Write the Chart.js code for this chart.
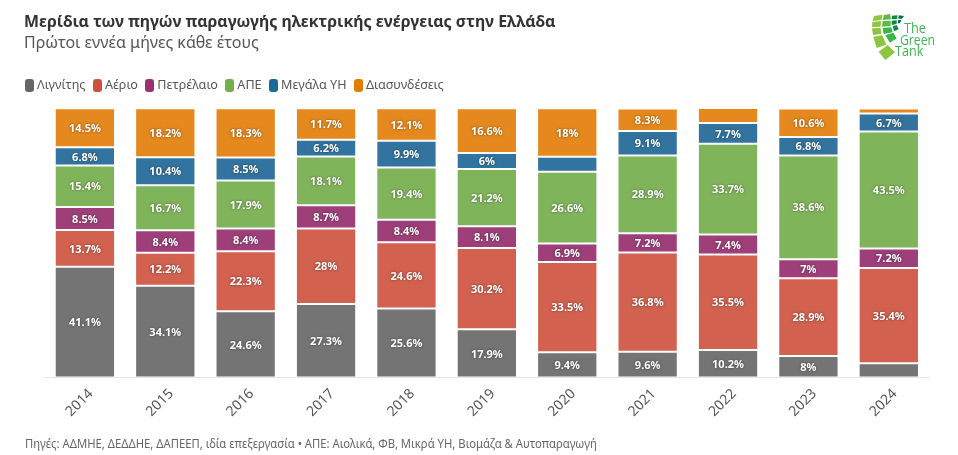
<!DOCTYPE html>
<html>
<head>
<meta charset="utf-8">
<script src="https://cdn.jsdelivr.net/npm/chart.js@4/dist/chart.umd.min.js"></script>
<style>
  html, body { margin: 0; padding: 0; background: #fff; }
  #wrap { position: relative; width: 958px; height: 455px; overflow: hidden; font-family: "Noto Sans", sans-serif; }
  #chart { position: absolute; left: 0; top: 0; }
  #legend { position: absolute; left: 25px; top: 76px; display: flex; font-size: 12.6px; line-height: 18px; color: #555; white-space: nowrap; }
  #legend span { display: flex; align-items: center; margin-right: 7.4px; }
  #legend i { display: block; width: 9px; height: 13px; border-radius: 3px; margin-right: 3px; }
  #source { position: absolute; left: 25px; top: 435px; font-size: 12px; color: #666; white-space: nowrap; transform: scaleX(0.94); transform-origin: left top; }
  #logo { position: absolute; left: 840px; top: 0; }
</style>
</head>
<body>
<div id="wrap">
  <canvas id="chart" width="958" height="455"></canvas>
  <div id="legend"></div>
  <svg id="logo" width="118" height="70" viewBox="0 0 354 210">
    <g fill="#8cc63f">
      <polygon points="102,48 128,44 124,60 98,63"/>
      <polygon points="97,66 123,63 122,80 96,81"/>
      <polygon points="96,85 122,84 124,102 99,105"/>
      <polygon points="100,110 127,106 139,134 110,144"/>
      <polygon points="116,155 143,135 165,157 136,180"/>
    </g>
    <g fill="#5cb947">
      <polygon points="132,45 150,42 153,58 128,60"/>
      <polygon points="128,63 152,62 152,78 126,80"/>
    </g>
    <g fill="#39b54a">
      <polygon points="128,84 154,82 158,97 131,102"/>
      <polygon points="136,106 160,98 170,115 150,128"/>
    </g>
    <g fill="#0f8a46">
      <polygon points="156,47 172,46 172,57 155,58"/>
      <polygon points="155,62 170,61 170,72 155,75"/>
      <polygon points="158,79 170,75 176,88 162,94"/>
    </g>
    <g fill="#0b6b3a">
      <polygon points="176,46 192,48 186,56 175,56"/>
      <polygon points="174,60 184,60 180,70 174,70"/>
    </g>
    <g fill="#3fb553" font-family="Open Sans, sans-serif" font-size="42">
      <text x="192" y="99" textLength="66" lengthAdjust="spacingAndGlyphs">The</text>
      <text x="180" y="134" textLength="105" lengthAdjust="spacingAndGlyphs">Green</text>
      <text x="165" y="169" textLength="85" lengthAdjust="spacingAndGlyphs">Tank</text>
    </g>
  </svg>
  <div id="source">Πηγές: ΑΔΜΗΕ, ΔΕΔΔΗΕ, ΔΑΠΕΕΠ, ιδία επεξεργασία • ΑΠΕ: Αιολικά, ΦΒ, Μικρά ΥΗ, Βιομάζα &amp; Αυτοπαραγωγή</div>
</div>
<script>
const years = ['2014', '2015', '2016', '2017', '2018', '2019', '2020', '2021', '2022', '2023', '2024']

const lignite = [41.1, 34.1, 24.6, 27.3, 25.6, 17.9, 9.4, 9.6, 10.2, 8, 5.3]
const gas = [13.7, 12.2, 22.3, 28, 24.6, 30.2, 33.5, 36.8, 35.5, 28.9, 35.4]
const oil = [8.5, 8.4, 8.4, 8.7, 8.4, 8.1, 6.9, 7.2, 7.4, 7, 7.2]
const res = [15.4, 16.7, 17.9, 18.1, 19.4, 21.2, 26.6, 28.9, 33.7, 38.6, 43.5]
const hydro = [6.8, 10.4, 8.5, 6.2, 9.9, 6, 5.6, 9.1, 7.7, 6.8, 6.7]
const imports = [14.5, 18.2, 18.3, 11.7, 12.1, 16.6, 18, 8.3, 5.6, 10.6, 1.8]

const seriesNames = ['Λιγνίτης', 'Αέριο', 'Πετρέλαιο', 'ΑΠΕ', 'Μεγάλα ΥΗ', 'Διασυνδέσεις']
const seriesValues = [lignite, gas, oil, res, hydro, imports]
const barColors = ['#747474', '#d2614f', '#9e3f7a', '#80b45a', '#32749f', '#e5881d']
const legendColors = ['#666666', '#cb5240', '#993171', '#72ae4a', '#1b6a99', '#e17e00']

const fontFamily = '"Noto Sans", sans-serif'
const minLabelValue = 5.9

document.getElementById('legend').innerHTML = seriesNames
  .map((name, i) => `<span><i style="background:${legendColors[i]}"></i>${name}</span>`)
  .join('')

// white value labels with a dark halo, small segments stay unlabelled
const valueLabels = {
  id: 'valueLabels',
  afterDatasetsDraw(chart) {
    const ctx = chart.ctx
    ctx.save()
    ctx.font = `bold 11px ${fontFamily}`
    ctx.textAlign = 'center'
    ctx.textBaseline = 'middle'
    ctx.fillStyle = '#fff'
    chart.data.datasets.forEach((ds, i) => {
      chart.getDatasetMeta(i).data.forEach((bar, j) => {
        if (ds.data[j] < minLabelValue) return
        const y = (bar.y + bar.base) / 2 + 1
        ctx.shadowColor = 'rgba(0,0,0,0.5)'
        ctx.shadowBlur = 2.5
        ctx.fillText(ds.data[j] + '%', bar.x, y)
      })
    })
    ctx.restore()
  }
}

new Chart(document.getElementById('chart'), {
  type: 'bar',
  data: {
    labels: years,
    datasets: seriesNames.map((name, i) => ({
      label: name,
      data: seriesValues[i],
      backgroundColor: barColors[i],
      borderColor: 'rgba(255,255,255,0.75)',
      borderWidth: 1,
      borderSkipped: false,
      barPercentage: 1,
      categoryPercentage: 0.75
    }))
  },
  options: {
    responsive: false,
    animation: false,
    layout: { padding: { left: 24, right: 29, top: 13, bottom: 32 } },
    scales: {
      x: {
        stacked: true,
        grid: { display: false, drawTicks: true, tickColor: '#e4e4e4', tickLength: 5 },
        border: { color: '#e4e4e4' },
        ticks: {
          maxRotation: 45,
          minRotation: 45,
          labelOffset: 6,
          color: '#555',
          font: { family: fontFamily, size: 14 }
        }
      },
      y: {
        stacked: true,
        min: 0,
        max: 100,
        grid: { display: false },
        border: { display: false },
        ticks: { display: false },
        afterFit(scale) { scale.width = 20.7 }
      }
    },
    plugins: {
      title: {
        display: true,
        align: 'start',
        text: 'Μερίδια των πηγών παραγωγής ηλεκτρικής ενέργειας στην Ελλάδα',
        color: '#333',
        font: { family: fontFamily, size: 15.9, weight: 'bold' },
        padding: { top: 0, bottom: 2 }
      },
      subtitle: {
        display: true,
        align: 'start',
        text: 'Πρώτοι εννέα μήνες κάθε έτους',
        color: '#555',
        font: { family: fontFamily, size: 16, weight: 'normal' },
        padding: { top: 0, bottom: 55 }
      },
      legend: { display: false },
      tooltip: { enabled: false }
    }
  },
  plugins: [valueLabels]
})
</script>
</body>
</html>
